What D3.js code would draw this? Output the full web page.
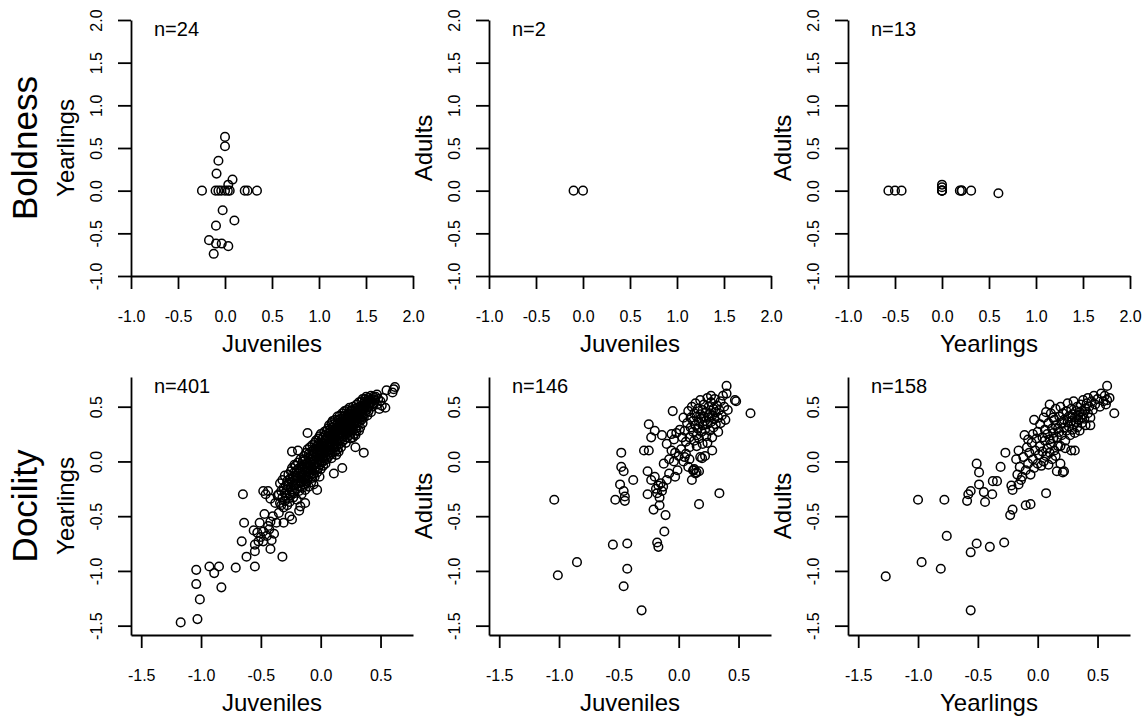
<!DOCTYPE html>
<html>
<head>
<meta charset="utf-8">
<script src="https://cdn.jsdelivr.net/npm/d3@7"></script>
<style>
  html, body { margin: 0; padding: 0; background: #fff; }
  svg { display: block; font-family: "Liberation Sans", Arial, sans-serif; }
</style>
</head>
<body>
<svg id="chart" width="1148" height="723"></svg>
<script>
// ---------------- data ----------------
const rowLabels = ["Boldness", "Docility"];
const xTitles = ["Juveniles", "Juveniles", "Yearlings"];
const yTitles = ["Yearlings", "Adults", "Adults"];
const nBoldness = [24, 2, 13];
const nDocility = [401, 146, 158];
const boldTicks = [-1, -0.5, 0, 0.5, 1, 1.5, 2];
const docTicks = [-1.5, -1, -0.5, 0, 0.5];
const boldLimits = [-1, 2];
const docLimits = [-1.498, 0.684];

// Boldness: Juveniles vs Yearlings
const boldJuvYear = [
  [0.00,0.63],[0.00,0.52],[-0.07,0.35],[-0.09,0.20],[0.08,0.13],[0.035,0.07],
  [-0.245,0],[-0.10,0],[-0.07,0],[-0.04,0],[0.00,0],[0.03,0],[0.05,0],[0.21,0],[0.24,0],[0.34,0],
  [-0.025,-0.23],[0.10,-0.35],[-0.096,-0.41],[-0.17,-0.58],[-0.096,-0.62],[-0.035,-0.62],[0.035,-0.65],[-0.12,-0.74]
];
// Boldness: Juveniles vs Adults
const boldJuvAdult = [[-0.10,0],[0.00,0]];
// Boldness: Yearlings vs Adults
const boldYearAdult = [
  [-0.57,0],[-0.50,0],[-0.43,0],[0,0.07],[0,0.04],[0,0],[0,0],[0,0],
  [0.19,0],[0.21,0],[0.21,0],[0.31,0],[0.60,-0.03]
];

// Docility: Juveniles vs Yearlings
const docJuvYear = [
  [-1.17,-1.47],[-1.03,-1.44],[-1.01,-1.26],[-1.04,-1.12],[-1.04,-0.99],[-0.93,-0.96],[-0.89,-1.02],[-0.85,-0.96],
  [-0.83,-1.15],[-0.71,-0.97],[-0.62,-0.87],[-0.55,-0.96],[-0.55,-0.82],[-0.66,-0.73],[-0.64,-0.56],[-0.65,-0.30],
  [-0.55,-0.76],[-0.42,-0.80],[-0.41,-0.72],[-0.32,-0.87],[-0.48,-0.64],[-0.51,-0.56],[-0.47,-0.48],[-0.45,-0.68],
  [-0.44,-0.59],[-0.48,-0.27],[-0.46,-0.30],[-0.40,-0.50],[-0.37,-0.56],[-0.31,-0.56],[-0.26,-0.50],[-0.24,-0.53],
  [-0.18,-0.45],[-0.17,-0.41],[-0.24,0.09],[-0.19,0.10],[-0.11,0.26],[-0.14,0.02],[-0.22,-0.03],[0.36,0.08],
  [0.29,0.13],[0.18,-0.06],[0.11,-0.11],[-0.01,-0.14],[-0.03,-0.26],[-0.13,-0.38],[0.54,0.49],[0.55,0.65],
  [0.61,0.66],[0.62,0.68],[0.60,0.63],
  [-0.53,-0.65],[-0.52,-0.73],[-0.48,-0.73],[-0.56,-0.63],[-0.50,-0.69],[-0.43,-0.62],[-0.39,-0.66],[-0.42,-0.55],
  [-0.35,-0.47],[-0.33,-0.40],[-0.38,-0.38],[-0.36,-0.31],[-0.42,-0.34],[-0.44,-0.27],
  [-0.35,-0.30],[-0.34,-0.20],[-0.34,-0.38],[-0.33,-0.27],[-0.32,-0.33],[-0.32,-0.17],[-0.31,-0.24],[-0.31,-0.42],
  [-0.30,-0.29],[-0.30,-0.13],[-0.30,-0.36],[-0.29,-0.22],[-0.29,-0.31],[-0.28,-0.18],[-0.28,-0.40],[-0.28,-0.26],
  [-0.27,-0.34],[-0.27,-0.12],[-0.27,-0.21],[-0.26,-0.29],[-0.26,-0.37],[-0.26,-0.16],[-0.25,-0.23],[-0.25,-0.31],[-0.25,-0.09],
  [-0.24,-0.19],[-0.24,-0.27],[-0.24,-0.06],[-0.23,-0.14],[-0.23,-0.33],[-0.23,-0.22],[-0.22,-0.10],[-0.22,-0.17],
  [-0.22,-0.29],[-0.21,-0.04],[-0.21,-0.21],[-0.21,-0.13],[-0.20,-0.25],[-0.20,-0.08],[-0.20,-0.16],[-0.20,-0.35],
  [-0.19,-0.11],[-0.19,-0.20],[-0.19,-0.01],[-0.18,-0.14],[-0.18,-0.27],[-0.18,-0.06],[-0.17,-0.18],[-0.17,-0.09],
  [-0.17,-0.23],[-0.17,0.02],[-0.16,-0.13],[-0.16,-0.30],[-0.16,-0.04],[-0.16,-0.19],[-0.15,-0.10],[-0.15,-0.24],
  [-0.15,0.00],[-0.15,-0.15],[-0.15,-0.07],
  [-0.14,-0.12],[-0.14,-0.03],[-0.14,-0.21],[-0.14,0.05],[-0.13,-0.08],[-0.13,-0.16],[-0.13,0.01],[-0.13,-0.26],
  [-0.12,-0.05],[-0.12,0.08],[-0.12,-0.13],[-0.12,-0.20],[-0.11,-0.02],[-0.11,-0.09],[-0.11,0.11],[-0.11,-0.17],
  [-0.10,0.03],[-0.10,-0.07],[-0.10,-0.14],[-0.10,0.07],[-0.10,-0.23],[-0.09,-0.01],[-0.09,-0.10],[-0.09,0.13],
  [-0.09,-0.04],[-0.08,0.05],[-0.08,-0.12],[-0.08,-0.19],[-0.08,0.02],[-0.07,-0.06],[-0.07,0.09],[-0.07,-0.15],
  [-0.07,0.00],[-0.07,0.15],[-0.06,-0.03],[-0.06,0.06],[-0.06,-0.11],[-0.06,-0.21],[-0.06,0.11],[-0.05,0.02],
  [-0.05,-0.08],[-0.05,0.17],[-0.05,-0.14],[-0.05,0.08],[-0.05,-0.02],
  [-0.04,0.04],[-0.04,0.12],[-0.04,-0.05],[-0.04,0.19],[-0.03,0.07],[-0.03,-0.01],[-0.03,0.14],[-0.03,-0.10],
  [-0.02,0.10],[-0.02,0.02],[-0.02,0.21],[-0.02,-0.06],[-0.02,0.16],[-0.01,0.05],[-0.01,0.13],[-0.01,-0.03],
  [-0.01,0.23],[-0.01,0.09],[0.00,0.01],[0.00,0.11],[0.00,0.17],[0.00,-0.07],[0.00,0.06],[0.00,0.25],
  [0.01,0.08],[0.01,0.15],[0.01,-0.01],[0.01,0.20],[0.01,0.03],[0.02,0.12],[0.02,0.05],[0.02,0.22],
  [0.02,-0.04],[0.02,0.17],[0.03,0.09],[0.03,0.14],[0.03,0.01],[0.03,0.27],[0.03,0.07],[0.04,0.19],
  [0.04,0.11],[0.04,-0.02],[0.04,0.24],[0.04,0.05],[0.05,0.15],[0.05,0.09],[0.05,0.21],[0.05,0.02],[0.05,0.28],[0.05,0.12],
  [0.06,0.16],[0.06,0.08],[0.06,0.23],[0.06,0.30],[0.06,0.04],[0.07,0.13],[0.07,0.20],[0.07,0.26],
  [0.07,0.10],[0.07,0.33],[0.08,0.17],[0.08,0.06],[0.08,0.24],[0.08,0.14],[0.08,0.29],[0.09,0.21],
  [0.09,0.11],[0.09,0.35],[0.09,0.18],[0.09,0.03],[0.10,0.25],[0.10,0.15],[0.10,0.31],[0.10,0.08],
  [0.10,0.21],[0.10,0.37],[0.11,0.19],[0.11,0.27],[0.11,0.12],[0.11,0.34],[0.11,0.23],[0.12,0.16],
  [0.12,0.29],[0.12,0.09],[0.12,0.24],[0.12,0.38],[0.13,0.20],[0.13,0.31],[0.13,0.14],[0.13,0.27],
  [0.13,0.06],[0.14,0.23],[0.14,0.35],[0.14,0.18],[0.14,0.29],[0.14,0.11],[0.14,0.41],[0.15,0.26],
  [0.15,0.21],[0.15,0.33],[0.15,0.15],[0.15,0.38],[0.15,0.28],[0.15,0.09],[0.15,0.24],
  [0.16,0.30],[0.16,0.19],[0.16,0.36],[0.16,0.25],[0.16,0.42],[0.17,0.28],[0.17,0.33],[0.17,0.21],
  [0.17,0.39],[0.17,0.13],[0.18,0.31],[0.18,0.26],[0.18,0.44],[0.18,0.35],[0.18,0.18],[0.19,0.29],
  [0.19,0.37],[0.19,0.23],[0.19,0.41],[0.19,0.32],[0.20,0.27],[0.20,0.34],[0.20,0.46],[0.20,0.20],
  [0.20,0.39],[0.20,0.30],[0.21,0.36],[0.21,0.25],[0.21,0.42],[0.21,0.31],[0.21,0.17],[0.22,0.33],
  [0.22,0.39],[0.22,0.28],[0.22,0.47],[0.22,0.22],[0.23,0.35],[0.23,0.41],[0.23,0.30],[0.23,0.26],
  [0.23,0.44],[0.24,0.37],[0.24,0.32],[0.24,0.24],[0.24,0.49],[0.24,0.40],[0.25,0.34],[0.25,0.43],
  [0.25,0.29],[0.25,0.38],[0.25,0.21],[0.25,0.46],[0.25,0.36],[0.24,0.28],[0.23,0.38],
  [0.26,0.40],[0.26,0.33],[0.26,0.47],[0.26,0.27],[0.27,0.42],[0.27,0.36],[0.27,0.50],[0.27,0.31],
  [0.28,0.39],[0.28,0.45],[0.28,0.34],[0.28,0.25],[0.29,0.43],[0.29,0.37],[0.29,0.48],[0.29,0.30],
  [0.30,0.41],[0.30,0.46],[0.30,0.35],[0.30,0.52],[0.30,0.28],[0.31,0.44],[0.31,0.39],[0.31,0.49],
  [0.31,0.33],[0.32,0.42],[0.32,0.47],[0.32,0.37],[0.32,0.54],[0.33,0.45],[0.33,0.40],[0.33,0.50],
  [0.33,0.31],[0.34,0.43],[0.34,0.48],[0.34,0.38],[0.34,0.55],[0.35,0.46],[0.35,0.41],[0.35,0.51],
  [0.35,0.35],[0.35,0.57],[0.32,0.28],[0.29,0.24],[0.27,0.22],
  [0.36,0.48],[0.36,0.53],[0.36,0.40],[0.37,0.50],[0.37,0.57],[0.37,0.44],[0.38,0.52],[0.38,0.47],
  [0.38,0.59],[0.39,0.55],[0.39,0.49],[0.39,0.42],[0.40,0.53],[0.40,0.58],[0.40,0.46],[0.41,0.56],
  [0.41,0.51],[0.42,0.60],[0.42,0.54],[0.42,0.45],[0.43,0.57],[0.43,0.50],[0.44,0.59],[0.44,0.53],[0.45,0.56],
  [0.46,0.59],[0.47,0.52],[0.48,0.57],[0.49,0.48],[0.50,0.55],[0.52,0.58],[0.47,0.61],[0.51,0.51]
];

// Docility: Juveniles vs Adults
const docJuvAdult = [
  [-1.04,-0.35],[-1.01,-1.04],[-0.85,-0.92],[-0.55,-0.76],[-0.43,-0.75],[-0.43,-0.98],[-0.46,-1.14],[-0.31,-1.36],
  [-0.48,0.08],[-0.48,-0.05],[-0.46,-0.09],[-0.49,-0.21],[-0.53,-0.35],[-0.46,-0.27],[-0.45,-0.32],[-0.45,-0.36],
  [-0.38,-0.17],[-0.29,0.10],[-0.25,0.10],[-0.25,0.34],[-0.20,0.28],[-0.23,0.22],[-0.26,-0.09],[-0.26,-0.30],
  [-0.23,-0.17],[-0.20,-0.14],[-0.18,-0.29],[-0.16,-0.40],[-0.21,-0.44],[-0.11,-0.49],[-0.12,-0.64],[-0.18,-0.74],
  [-0.17,-0.78],[-0.14,0.24],[-0.05,0.46],[0.34,-0.29],[0.17,-0.39],[0.11,-0.17],[0.60,0.44],[0.40,0.69],
  [0.47,0.56],[0.48,0.55],[-0.15,-0.20],[-0.13,-0.23],[-0.08,-0.11],[-0.03,-0.14],[-0.01,-0.08],
  [-0.19,-0.25],[-0.17,-0.22],[-0.14,-0.27],[-0.16,-0.33],[-0.10,-0.17],[-0.125,-0.02],[-0.08,0.02],[-0.04,0.00],
  [0.00,0.05],[0.04,0.00],[0.08,-0.05],[0.125,-0.08],[0.14,-0.11],[0.17,-0.09],[0.195,0.03],[0.22,0.05],
  [0.28,0.10],[0.12,-0.08],[0.15,-0.10],[0.13,-0.07],[-0.06,0.10],[-0.03,0.08],[-0.10,0.16],[-0.04,0.20],
  [-0.02,0.26],[-0.06,0.25],[0.02,0.11],[0.05,0.04],[0.09,0.02],[0.06,0.07],[0.18,0.04],[0.15,0.14],[0.24,0.17],
  [0.05,0.28],[0.07,0.35],[0.08,0.46],[0.09,0.22],[0.10,0.31],[0.10,0.40],[0.11,0.50],[0.12,0.27],
  [0.12,0.37],[0.13,0.44],[0.13,0.19],[0.14,0.33],[0.14,0.53],[0.15,0.24],[0.15,0.41],[0.16,0.30],
  [0.16,0.48],[0.17,0.36],[0.17,0.21],[0.18,0.43],[0.18,0.56],[0.19,0.27],[0.19,0.39],[0.20,0.33],
  [0.20,0.47],[0.20,0.16],[0.21,0.41],[0.21,0.52],[0.22,0.29],[0.22,0.37],[0.23,0.45],[0.23,0.23],
  [0.24,0.34],[0.24,0.58],[0.25,0.40],[0.25,0.50],[0.26,0.28],[0.26,0.44],[0.27,0.36],[0.27,0.54],
  [0.28,0.42],[0.28,0.22],[0.29,0.48],[0.29,0.31],[0.30,0.39],[0.30,0.57],[0.31,0.45],[0.31,0.34],
  [0.32,0.51],[0.33,0.40],[0.33,0.27],[0.34,0.47],[0.35,0.55],[0.35,0.35],[0.36,0.42],[0.37,0.60],
  [0.38,0.50],[0.39,0.38],[0.40,0.62],[0.41,0.47],[0.03,0.22],[0.01,0.29],[0.06,0.18],[0.04,0.40],
  [0.09,0.13],[0.27,0.60]
];

// Docility: Yearlings vs Adults
const docYearAdult = [
  [-1.27,-1.05],[-1.00,-0.35],[-0.97,-0.92],[-0.81,-0.98],[-0.78,-0.35],[-0.76,-0.68],[-0.56,-0.83],[-0.51,-0.75],
  [-0.40,-0.78],[-0.28,-0.74],[-0.56,-1.36],[-0.51,-0.02],[-0.49,-0.10],[-0.49,-0.21],[-0.58,-0.30],[-0.59,-0.36],
  [-0.56,-0.27],[-0.45,-0.28],[-0.44,-0.37],[-0.38,-0.30],[-0.375,-0.18],[-0.34,-0.18],[-0.31,-0.05],[-0.27,0.08],
  [-0.22,-0.22],[-0.21,-0.26],[-0.23,-0.49],[-0.21,-0.44],[-0.10,-0.40],[-0.06,-0.39],[0.07,-0.29],[-0.03,0.38],
  [0.64,0.44],[0.58,0.69],[0.44,0.33],[0.16,-0.09],[0.22,-0.09],[-0.16,0.10],[-0.11,0.24],[-0.18,0.02],
  [-0.15,-0.05],[-0.17,-0.12],[-0.14,-0.17],[-0.16,-0.21],[-0.13,-0.14],
  [-0.12,0.04],[-0.10,-0.08],[-0.09,0.13],[-0.08,-0.02],[-0.07,0.08],[-0.06,-0.12],[-0.05,0.17],[-0.04,0.02],
  [-0.03,-0.06],[-0.02,0.10],[-0.01,0.21],[0.00,-0.02],[0.01,0.06],[0.02,0.14],[0.03,-0.04],[0.04,0.09],
  [0.05,0.00],[0.06,0.19],[0.07,0.05],[0.08,0.12],[0.09,-0.03],[0.10,0.08],[0.11,0.16],[0.12,0.02],
  [0.13,0.21],[0.14,0.10],[0.15,0.05],[0.17,0.14],[0.19,-0.02],[0.21,-0.10],[0.23,0.12],[0.28,0.10],
  [0.31,0.10],[-0.08,0.20],[-0.04,0.25],
  [0.00,0.27],[0.02,0.34],[0.04,0.22],[0.05,0.40],[0.06,0.29],[0.08,0.25],[0.09,0.35],[0.10,0.20],
  [0.11,0.44],[0.12,0.30],[0.13,0.26],[0.14,0.38],[0.15,0.33],[0.15,0.48],[0.16,0.22],[0.17,0.30],
  [0.18,0.41],[0.18,0.27],[0.19,0.50],[0.20,0.35],[0.20,0.24],[0.21,0.44],[0.22,0.31],[0.22,0.38],
  [0.23,0.19],[0.24,0.46],[0.24,0.28],[0.25,0.36],[0.25,0.53],[0.26,0.32],[0.26,0.41],[0.27,0.24],
  [0.28,0.48],[0.28,0.37],[0.29,0.29],[0.29,0.43],[0.30,0.34],[0.30,0.55],[0.31,0.40],[0.31,0.26],
  [0.32,0.46],[0.32,0.36],[0.33,0.31],[0.33,0.50],[0.34,0.42],[0.34,0.38],[0.35,0.45],[0.35,0.28],
  [0.36,0.40],[0.36,0.52],[0.37,0.35],[0.37,0.46],[0.38,0.43],[0.38,0.56],[0.39,0.39],[0.40,0.48],
  [0.40,0.33],[0.41,0.53],[0.42,0.44],[0.42,0.58],[0.43,0.50],[0.44,0.40],[0.45,0.55],[0.46,0.47],
  [0.47,0.60],[0.48,0.52],[0.50,0.57],[0.52,0.50],[0.53,0.62],[0.55,0.55],[0.56,0.60],[0.57,0.52],
  [0.58,0.56],[0.60,0.58],[0.19,0.14],[0.13,0.40],[0.07,0.45],[0.10,0.52]
];

// ---------------- layout ----------------
const colLeft = [131, 489, 848];
const plotW = 282;
const rowTop = [20, 377];
const rowBottom = [276, 635];
const tickLen = 13;
const FONT_TICK = 16, FONT_TITLE = 24, FONT_N = 20, FONT_ROW = 35;

function padded(lim) {
  const d = (lim[1] - lim[0]) * 0.04;
  return [lim[0] - d, lim[1] + d];
}

const rows = [
  { label: rowLabels[0], domain: boldLimits, ticks: boldTicks, n: nBoldness,
    data: [boldJuvYear, boldJuvAdult, boldYearAdult] },
  { label: rowLabels[1], domain: padded(docLimits), ticks: docTicks, n: nDocility,
    data: [docJuvYear, docJuvAdult, docYearAdult] }
];

const svg = d3.select("#chart");
const fmt = d => d.toFixed(1);

rows.forEach((row, ri) => {
  const top = rowTop[ri], bottom = rowBottom[ri];

  // row label
  svg.append("text")
    .attr("transform", `translate(37,${(top + bottom) / 2}) rotate(-90)`)
    .attr("text-anchor", "middle")
    .attr("font-size", FONT_ROW)
    .attr("fill", "#000")
    .text(row.label);

  for (let ci = 0; ci < 3; ci++) {
    const left = colLeft[ci], right = left + plotW;
    const x = d3.scaleLinear().domain(row.domain).range([left, right]);
    const y = d3.scaleLinear().domain(row.domain).range([bottom, top]);

    // y axis
    const gy = svg.append("g").attr("transform", `translate(${left},0)`)
      .call(d3.axisLeft(y).tickValues(row.ticks).tickFormat(fmt).tickSize(tickLen).tickSizeOuter(0));
    gy.select(".domain").attr("stroke", "#000").attr("stroke-width", 1.8);
    gy.selectAll(".tick line").attr("stroke", "#000").attr("stroke-width", 1.8);
    gy.selectAll(".tick text")
      .attr("transform", "rotate(-90)")
      .attr("x", 0).attr("y", -29).attr("dy", 0)
      .attr("text-anchor", "middle")
      .attr("font-size", FONT_TICK)
      .attr("font-family", "Liberation Sans, Arial, sans-serif")
      .attr("fill", "#000");

    // x axis
    const gx = svg.append("g").attr("transform", `translate(0,${bottom})`)
      .call(d3.axisBottom(x).tickValues(row.ticks).tickFormat(fmt).tickSize(tickLen).tickSizeOuter(0));
    gx.select(".domain").attr("stroke", "#000").attr("stroke-width", 1.8);
    gx.selectAll(".tick line").attr("stroke", "#000").attr("stroke-width", 1.8);
    gx.selectAll(".tick text")
      .attr("y", 46).attr("dy", 0)
      .attr("font-size", FONT_TICK)
      .attr("font-family", "Liberation Sans, Arial, sans-serif")
      .attr("fill", "#000");

    // axis titles
    svg.append("text")
      .attr("x", (left + right) / 2).attr("y", bottom + 75.5)
      .attr("text-anchor", "middle")
      .attr("font-size", FONT_TITLE)
      .text(xTitles[ci]);
    svg.append("text")
      .attr("transform", `translate(${left - 57.5},${(top + bottom) / 2}) rotate(-90)`)
      .attr("text-anchor", "middle")
      .attr("font-size", FONT_TITLE)
      .text(yTitles[ci]);

    // n label
    svg.append("text")
      .attr("x", left + 23).attr("y", top + 15.5)
      .attr("font-size", FONT_N)
      .text("n=" + row.n[ci]);

    // points
    svg.append("g").selectAll("circle")
      .data(row.data[ci])
      .join("circle")
      .attr("cx", d => x(d[0]))
      .attr("cy", d => y(d[1]))
      .attr("r", 4.3)
      .attr("fill", "none")
      .attr("stroke", "#000")
      .attr("stroke-width", 1.5);
  }
});
</script>
</body>
</html>
